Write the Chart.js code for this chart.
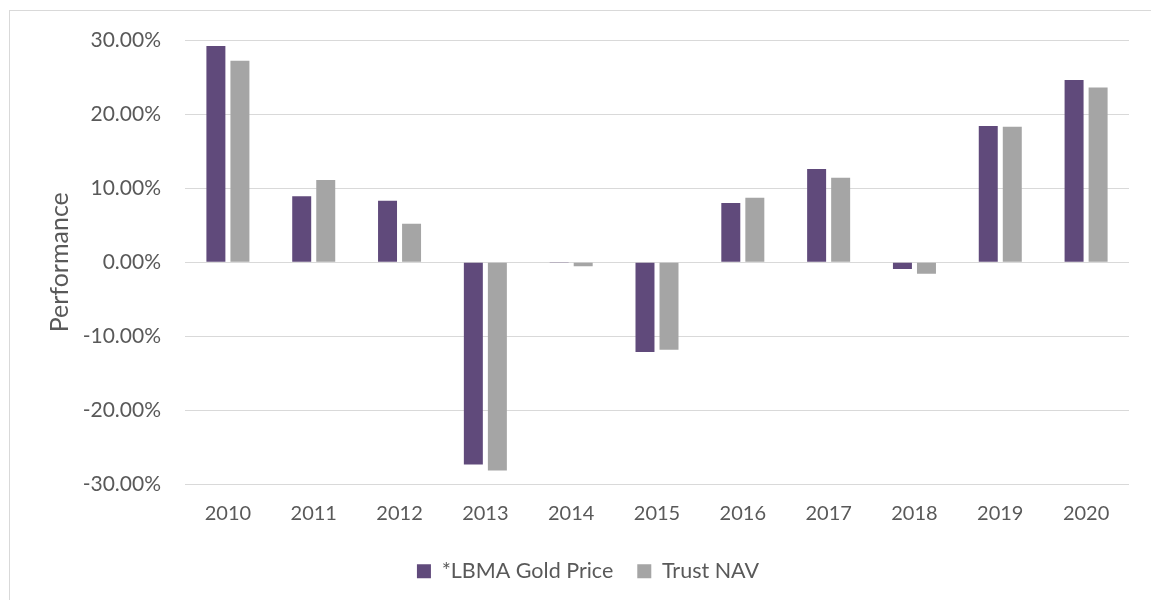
<!DOCTYPE html>
<html>
<head>
<meta charset="utf-8">
<script src="https://cdn.jsdelivr.net/npm/chart.js@4.4.1/dist/chart.umd.min.js"></script>
<style>
    body { margin: 0; background: #ffffff; }
    #frame {
        position: absolute; left: 9px; top: 10px; width: 1142px; height: 590px;
        border-top: 1px solid #d9d9d9; border-left: 1px solid #d9d9d9;
    }
    #wrap { position: absolute; left: 0; top: 0; width: 1151px; height: 600px; }
</style>
</head>
<body>
<div id="frame"></div>
<div id="wrap"><canvas id="perfChart" width="1151" height="600"></canvas></div>
<script>
// Chart data
const years = ['2010', '2011', '2012', '2013', '2014', '2015', '2016', '2017', '2018', '2019', '2020'];
const goldPrice = [29.2, 8.9, 8.3, -27.3, -0.1, -12.1, 8.0, 12.6, -0.9, 18.4, 24.6];
const trustNav = [27.2, 11.1, 5.2, -28.1, -0.55, -11.8, 8.7, 11.4, -1.55, 18.3, 23.6];
const yTicks = [-30, -20, -10, 0, 10, 20, 30];

const textColor = '#595959';
const gridColor = '#d9d9d9';
const fontFamily = 'Lato, "Liberation Sans", sans-serif';

Chart.defaults.font.family = fontFamily;
Chart.defaults.color = textColor;

new Chart(document.getElementById('perfChart'), {
    type: 'bar',
    data: {
        labels: years,
        datasets: [{
            label: '*LBMA Gold Price',
            data: goldPrice,
            backgroundColor: '#604a7b',
            categoryPercentage: 0.56,
            barPercentage: 0.79
        }, {
            label: 'Trust NAV',
            data: trustNav,
            backgroundColor: '#a5a5a5',
            categoryPercentage: 0.56,
            barPercentage: 0.79
        }]
    },
    options: {
        responsive: false,
        animation: false,
        layout: {
            // left/right offset keeps the legend centred like the original
            padding: { left: 47, top: 40, right: 22, bottom: 8 }
        },
        plugins: {
            legend: {
                position: 'bottom',
                labels: {
                    boxWidth: 14,
                    boxHeight: 14,
                    padding: 24,
                    font: { size: 21.5 },
                    color: textColor
                }
            },
            tooltip: { enabled: false }
        },
        scales: {
            x: {
                grid: { display: false },
                border: { display: false },
                ticks: { font: { size: 20 }, padding: 9, color: textColor },
                afterFit: function (scale) { scale.height = 52; }
            },
            y: {
                min: -30,
                max: 30,
                afterBuildTicks: function (scale) {
                    scale.ticks = yTicks.map(v => ({ value: v }));
                },
                grid: { color: gridColor, lineWidth: 1, drawTicks: false },
                border: { display: false },
                ticks: {
                    font: { size: 21 },
                    padding: 24,
                    color: textColor,
                    callback: v => v.toFixed(2) + '%'
                },
                title: {
                    display: true,
                    text: 'Performance',
                    font: { size: 25 },
                    color: textColor,
                    padding: { top: -2, bottom: 0 }
                },
                afterFit: function (scale) { scale.width = 138; }
            }
        }
    }
});
</script>
</body>
</html>
